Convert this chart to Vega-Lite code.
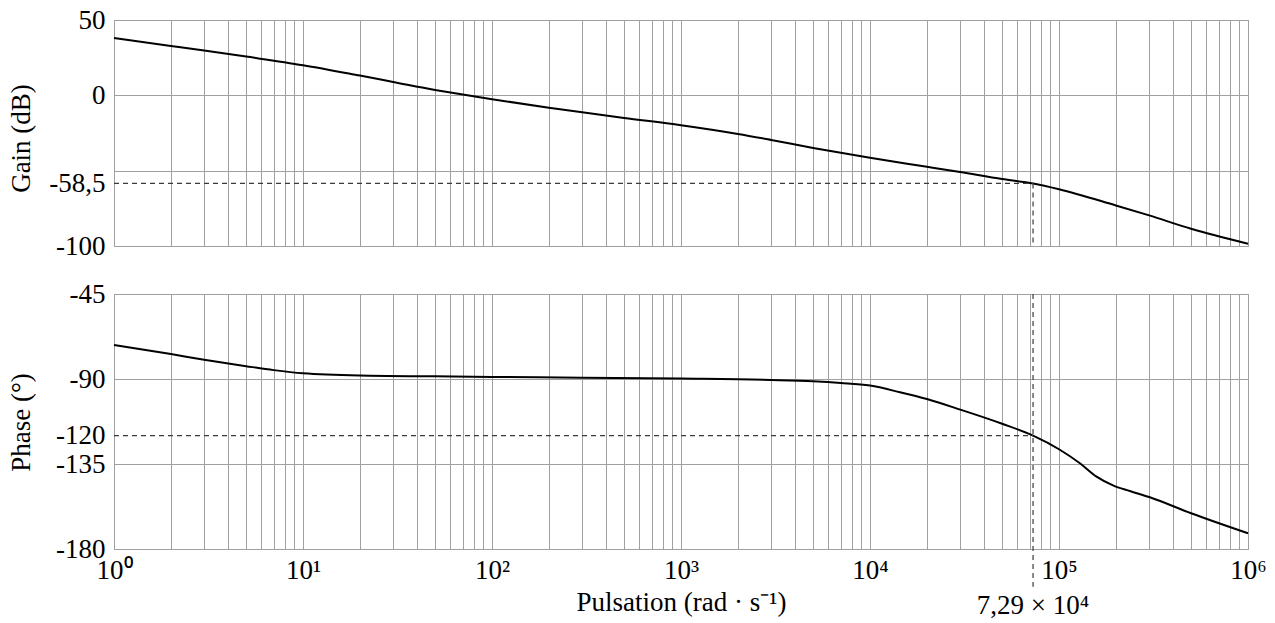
{
  "$schema": "https://vega.github.io/schema/vega-lite/v6.json",
  "padding": {"left": 6, "top": 5, "right": 5, "bottom": 0},
  "bounds": "flush",
  "spacing": 48,
  "datasets": {
    "gain": [
      {"w": 1, "db": 38.1}, {"w": 2, "db": 32.8}, {"w": 3, "db": 29.7}, {"w": 5, "db": 25.7},
      {"w": 10, "db": 20.0}, {"w": 20, "db": 13.1}, {"w": 30, "db": 8.9}, {"w": 50, "db": 3.6},
      {"w": 70, "db": 0.5}, {"w": 100, "db": -2.6}, {"w": 200, "db": -8.2}, {"w": 300, "db": -11.3},
      {"w": 500, "db": -15.0}, {"w": 1000, "db": -19.8}, {"w": 2000, "db": -25.6}, {"w": 3000, "db": -29.6},
      {"w": 5000, "db": -34.9}, {"w": 10000, "db": -41.5}, {"w": 20000, "db": -47.4}, {"w": 30000, "db": -50.9},
      {"w": 50000, "db": -55.6}, {"w": 72900, "db": -58.5}, {"w": 100000, "db": -62.3}, {"w": 200000, "db": -73.1},
      {"w": 300000, "db": -79.7}, {"w": 500000, "db": -88.6}, {"w": 1000000, "db": -98.5}
    ],
    "phase": [
      {"w": 1, "deg": -72.0}, {"w": 2, "deg": -76.8}, {"w": 3, "deg": -79.8}, {"w": 5, "deg": -83.2},
      {"w": 7, "deg": -85.3}, {"w": 10, "deg": -87.0}, {"w": 20, "deg": -88.2}, {"w": 50, "deg": -88.6},
      {"w": 100, "deg": -88.9}, {"w": 300, "deg": -89.3}, {"w": 1000, "deg": -89.8}, {"w": 3000, "deg": -90.5},
      {"w": 5000, "deg": -91.2}, {"w": 7000, "deg": -92.1}, {"w": 10000, "deg": -93.5}, {"w": 14400, "deg": -97.0},
      {"w": 20000, "deg": -100.6}, {"w": 30000, "deg": -106.2}, {"w": 50000, "deg": -113.7}, {"w": 72900, "deg": -120.0},
      {"w": 100000, "deg": -127.2}, {"w": 129000, "deg": -134.6}, {"w": 158000, "deg": -141.7}, {"w": 193000, "deg": -146.3},
      {"w": 237000, "deg": -149.3}, {"w": 300000, "deg": -152.5}, {"w": 500000, "deg": -161.1}, {"w": 1000000, "deg": -171.7}
    ],
    "gainGuide": [{"wStart": 1, "w": 72900, "level": -58.5, "floor": -100}],
    "phaseGuide": [{"wStart": 1, "w": 72900, "level": -120, "top": -45, "bottom": -200, "base": -180, "label": "7,29 × 10⁴"}]
  },
  "vconcat": [
    {
      "width": 1134,
      "height": 226,
      "layer": [
        {
          "data": {"name": "gain"},
          "mark": {"type": "line", "color": "black", "strokeWidth": 2, "interpolate": "monotone"},
          "encoding": {
            "x": {
              "field": "w", "type": "quantitative",
              "scale": {"type": "log", "domain": [1, 1000000], "nice": false},
              "axis": {
                "values": [1,2,3,4,5,6,7,8,9,10,20,30,40,50,60,70,80,90,100,200,300,400,500,600,700,800,900,1000,2000,3000,4000,5000,6000,7000,8000,9000,10000,20000,30000,40000,50000,60000,70000,80000,90000,100000,200000,300000,400000,500000,600000,700000,800000,900000,1000000],
                "labels": false, "title": null, "grid": true
              }
            },
            "y": {
              "field": "db", "type": "quantitative",
              "scale": {"domain": [-100, 50], "nice": false, "zero": false},
              "axis": {
                "values": [50, 0, -50, -58.5, -100],
                "labelExpr": "datum.value == -50 ? '' : replace(datum.value + '', '.', ',')",
                "gridOpacity": {"condition": {"test": "datum.value == -58.5", "value": 0}, "value": 1},
                "labelPadding": 9,
                "title": "Gain (dB)",
                "titleAngle": 270,
                "titleBaseline": "alphabetic",
                "titleAlign": "center",
                "titleX": -85,
                "titleY": 118
              }
            }
          }
        },
        {
          "data": {"name": "gainGuide"},
          "mark": {"type": "rule", "color": "#3a3a3a", "strokeWidth": 1.2, "strokeDash": [5, 4]},
          "encoding": {
            "x": {"field": "wStart", "type": "quantitative"},
            "x2": {"field": "w"},
            "y": {"field": "level", "type": "quantitative"}
          }
        },
        {
          "data": {"name": "gainGuide"},
          "mark": {"type": "rule", "color": "#3a3a3a", "strokeWidth": 1.2, "strokeDash": [5, 4]},
          "encoding": {
            "x": {"field": "w", "type": "quantitative"},
            "y": {"field": "level", "type": "quantitative"},
            "y2": {"field": "floor"}
          }
        }
      ]
    },
    {
      "width": 1134,
      "height": 255,
      "layer": [
        {
          "data": {"name": "phase"},
          "mark": {"type": "line", "color": "black", "strokeWidth": 2, "interpolate": "monotone"},
          "encoding": {
            "x": {
              "field": "w", "type": "quantitative",
              "scale": {"type": "log", "domain": [1, 1000000], "nice": false},
              "axis": {
                "values": [1,2,3,4,5,6,7,8,9,10,20,30,40,50,60,70,80,90,100,200,300,400,500,600,700,800,900,1000,2000,3000,4000,5000,6000,7000,8000,9000,10000,20000,30000,40000,50000,60000,70000,80000,90000,100000,200000,300000,400000,500000,600000,700000,800000,900000,1000000],
                "labelExpr": "abs(log(datum.value)/LN10 - round(log(datum.value)/LN10)) < 0.001 ? '10' + ['⁰','¹','²','³','⁴','⁵','⁶'][round(log(datum.value)/LN10)] : ''",
                "labelPadding": 8,
                "grid": true,
                "title": "Pulsation (rad · s⁻¹)",
                "titleBaseline": "alphabetic",
                "titleY": 61
              }
            },
            "y": {
              "field": "deg", "type": "quantitative",
              "scale": {"domain": [-180, -45], "nice": false, "zero": false},
              "axis": {
                "values": [-45, -90, -120, -135, -180],
                "labelExpr": "datum.value + ''",
                "gridOpacity": {"condition": {"test": "datum.value == -120", "value": 0}, "value": 1},
                "labelPadding": 9,
                "title": "Phase (°)",
                "titleAngle": 270,
                "titleBaseline": "alphabetic",
                "titleAlign": "center",
                "titleX": -85,
                "titleY": 128
              }
            }
          }
        },
        {
          "data": {"name": "phaseGuide"},
          "mark": {"type": "rule", "color": "#3a3a3a", "strokeWidth": 1.2, "strokeDash": [5, 4]},
          "encoding": {
            "x": {"field": "wStart", "type": "quantitative"},
            "x2": {"field": "w"},
            "y": {"field": "level", "type": "quantitative"}
          }
        },
        {
          "data": {"name": "phaseGuide"},
          "mark": {"type": "rule", "color": "#3a3a3a", "strokeWidth": 1.2, "strokeDash": [5, 4]},
          "encoding": {
            "x": {"field": "w", "type": "quantitative"},
            "y": {"field": "top", "type": "quantitative"},
            "y2": {"field": "bottom"}
          }
        },
        {
          "data": {"name": "phaseGuide"},
          "mark": {"type": "text", "dy": 65, "baseline": "alphabetic", "align": "center", "fontSize": 27, "font": "Liberation Serif", "color": "black"},
          "encoding": {
            "x": {"field": "w", "type": "quantitative"},
            "y": {"field": "base", "type": "quantitative"},
            "text": {"field": "label"}
          }
        }
      ]
    }
  ],
  "config": {
    "font": "Liberation Serif",
    "view": {"stroke": "#a0a0a0", "strokeWidth": 1},
    "axis": {
      "labelFont": "Liberation Serif", "labelFontSize": 27, "labelColor": "black",
      "titleFont": "Liberation Serif", "titleFontSize": 27, "titleFontWeight": "normal", "titleColor": "black",
      "gridColor": "#a0a0a0", "gridWidth": 1, "ticks": false, "domain": false,
      "labelOverlap": false, "labelFlush": false, "labelBound": false
    }
  }
}
